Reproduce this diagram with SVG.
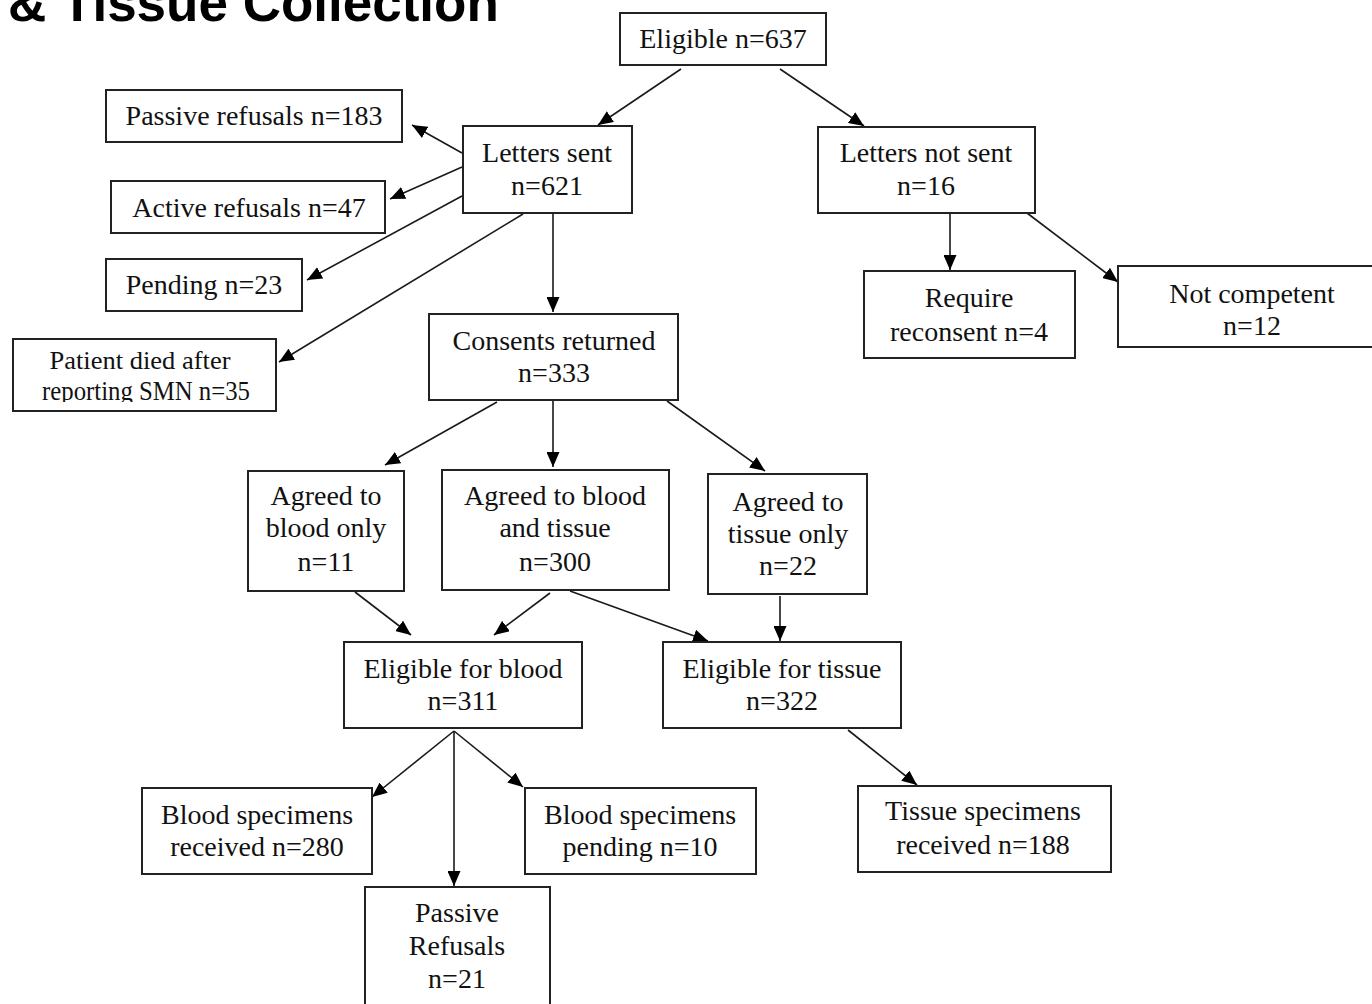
<svg xmlns="http://www.w3.org/2000/svg" width="1372" height="1004" viewBox="0 0 1372 1004">
<style>
.box{fill:#fff;stroke:#222;stroke-width:2}
.t{font-family:"Liberation Serif","Times New Roman",serif;font-size:28px;fill:#111;text-anchor:middle}
.title{font-family:"Liberation Sans",Arial,sans-serif;font-size:53px;font-weight:bold;fill:#000}
.c{stroke:#1a1a1a;stroke-width:1.6;fill:none;marker-end:url(#ah)}
</style>
<defs>
<marker id="ah" markerUnits="userSpaceOnUse" markerWidth="16" markerHeight="13" refX="15" refY="6.5" orient="auto">
<path d="M0,0 L15,6.5 L0,13 z" fill="#000"/>
</marker>
<clipPath id="clipDied"><rect x="13" y="339" width="263" height="63"/></clipPath>
</defs>
<rect width="1372" height="1004" fill="#fff"/>
<text class="title" x="8" y="21">&amp; Tissue Collection</text>

<g id="connectors">
<line class="c" x1="681" y1="69" x2="598" y2="125"/>
<line class="c" x1="780" y1="69" x2="864" y2="126"/>
<line class="c" x1="462" y1="153" x2="412" y2="125"/>
<line class="c" x1="462" y1="167" x2="390" y2="199"/>
<line class="c" x1="462" y1="196" x2="307" y2="280"/>
<line class="c" x1="523" y1="214" x2="279" y2="362"/>
<line class="c" x1="553" y1="213" x2="553" y2="312"/>
<line class="c" x1="950" y1="213" x2="950" y2="270"/>
<line class="c" x1="1027" y1="213" x2="1118" y2="282"/>
<line class="c" x1="497" y1="402" x2="385" y2="465"/>
<line class="c" x1="553" y1="400" x2="553" y2="467"/>
<line class="c" x1="667" y1="401" x2="765" y2="471"/>
<line class="c" x1="355" y1="592" x2="411" y2="635"/>
<line class="c" x1="550" y1="593" x2="494" y2="635"/>
<line class="c" x1="570" y1="591" x2="708" y2="641"/>
<line class="c" x1="780" y1="596" x2="780" y2="641"/>
<line class="c" x1="454" y1="731" x2="372" y2="797"/>
<line class="c" x1="454" y1="731" x2="454" y2="886"/>
<line class="c" x1="454" y1="731" x2="523" y2="787"/>
<line class="c" x1="848" y1="730" x2="917" y2="785"/>
</g>

<g id="eligible">
<rect class="box" x="620" y="13" width="206" height="52"/>
<text class="t" x="723" y="48">Eligible n=637</text>
</g>
<g id="letters-sent">
<rect class="box" x="463" y="126" width="169" height="87"/>
<text class="t" x="547" y="162">Letters sent</text>
<text class="t" x="547" y="195">n=621</text>
</g>
<g id="letters-not-sent">
<rect class="box" x="818" y="127" width="217" height="86"/>
<text class="t" x="926" y="162">Letters not sent</text>
<text class="t" x="926" y="195">n=16</text>
</g>
<g id="passive-refusals">
<rect class="box" x="106" y="90" width="296" height="52"/>
<text class="t" x="254" y="125">Passive refusals n=183</text>
</g>
<g id="active-refusals">
<rect class="box" x="111" y="181" width="274" height="52"/>
<text class="t" x="249" y="217">Active refusals n=47</text>
</g>
<g id="pending">
<rect class="box" x="106" y="259" width="196" height="52"/>
<text class="t" x="204" y="294">Pending n=23</text>
</g>
<g id="patient-died">
<rect class="box" x="13" y="339" width="263" height="72"/>
<text class="t" x="140" y="369" style="font-size:25px" textLength="181" lengthAdjust="spacingAndGlyphs">Patient died after</text>
<g clip-path="url(#clipDied)">
<text class="t" x="146" y="400" textLength="208" lengthAdjust="spacingAndGlyphs">reporting SMN n=35</text>
</g>
</g>
<g id="consents-returned">
<rect class="box" x="429" y="314" width="249" height="86"/>
<text class="t" x="554" y="350">Consents returned</text>
<text class="t" x="554" y="382">n=333</text>
</g>
<g id="require-reconsent">
<rect class="box" x="864" y="271" width="211" height="87"/>
<text class="t" x="969" y="307">Require</text>
<text class="t" x="969" y="341">reconsent n=4</text>
</g>
<g id="not-competent">
<rect class="box" x="1118" y="266" width="260" height="81"/>
<text class="t" x="1252" y="303">Not competent</text>
<text class="t" x="1252" y="335">n=12</text>
</g>
<g id="agreed-blood-only">
<rect class="box" x="248" y="471" width="156" height="120"/>
<text class="t" x="326" y="505">Agreed to</text>
<text class="t" x="326" y="537">blood only</text>
<text class="t" x="326" y="571">n=11</text>
</g>
<g id="agreed-blood-tissue">
<rect class="box" x="442" y="470" width="227" height="120"/>
<text class="t" x="555" y="505">Agreed to blood</text>
<text class="t" x="555" y="537">and tissue</text>
<text class="t" x="555" y="571">n=300</text>
</g>
<g id="agreed-tissue-only">
<rect class="box" x="708" y="474" width="159" height="120"/>
<text class="t" x="788" y="511">Agreed to</text>
<text class="t" x="788" y="543">tissue only</text>
<text class="t" x="788" y="575">n=22</text>
</g>
<g id="eligible-blood">
<rect class="box" x="344" y="642" width="238" height="86"/>
<text class="t" x="463" y="678">Eligible for blood</text>
<text class="t" x="463" y="710">n=311</text>
</g>
<g id="eligible-tissue">
<rect class="box" x="663" y="642" width="238" height="86"/>
<text class="t" x="782" y="678">Eligible for tissue</text>
<text class="t" x="782" y="710">n=322</text>
</g>
<g id="blood-received">
<rect class="box" x="142" y="788" width="230" height="86"/>
<text class="t" x="257" y="824">Blood specimens</text>
<text class="t" x="257" y="856">received n=280</text>
</g>
<g id="blood-pending">
<rect class="box" x="525" y="788" width="231" height="86"/>
<text class="t" x="640" y="824">Blood specimens</text>
<text class="t" x="640" y="856">pending n=10</text>
</g>
<g id="passive-refusals-21">
<rect class="box" x="365" y="887" width="185" height="130"/>
<text class="t" x="457" y="922">Passive</text>
<text class="t" x="457" y="955">Refusals</text>
<text class="t" x="457" y="988">n=21</text>
</g>
<g id="tissue-received">
<rect class="box" x="858" y="786" width="253" height="86"/>
<text class="t" x="983" y="820">Tissue specimens</text>
<text class="t" x="983" y="854">received n=188</text>
</g>
</svg>
